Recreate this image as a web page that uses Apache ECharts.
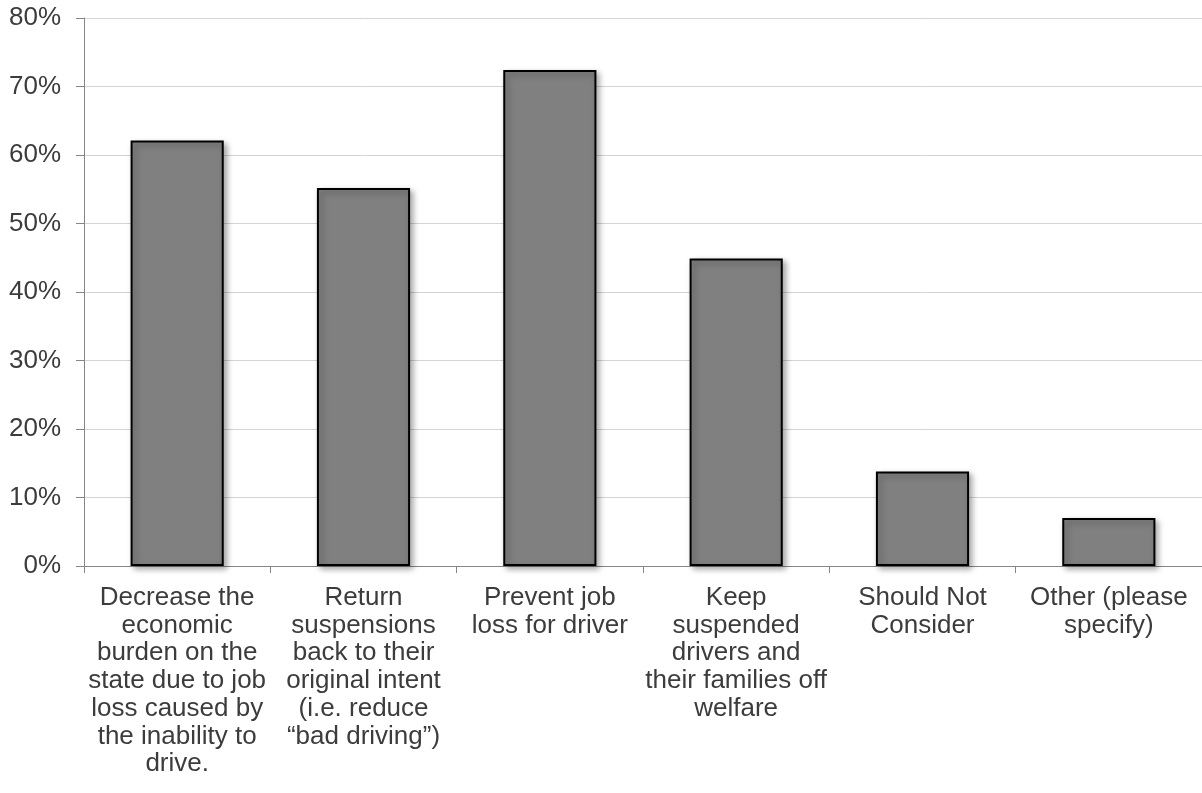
<!DOCTYPE html>
<html>
<head>
<meta charset="utf-8">
<script src="https://cdn.jsdelivr.net/npm/echarts@6/dist/echarts.min.js"></script>
<style>
  html, body { margin: 0; padding: 0; background: #ffffff; }
  #chart { width: 1202px; height: 793px; }
</style>
</head>
<body>
<div id="chart"></div>
<script>
// Survey responses: reasons to reconsider license suspensions
const categories = [
  'Decrease the\neconomic\nburden on the\nstate due to job\nloss caused by\nthe inability to\ndrive.',
  'Return\nsuspensions\nback to their\noriginal intent\n(i.e. reduce\n\u201cbad driving\u201d)',
  'Prevent job\nloss for driver',
  'Keep\nsuspended\ndrivers and\ntheir families off\nwelfare',
  'Should Not\nConsider',
  'Other (please\nspecify)'
];
const percentValues = [62.1, 55.2, 72.4, 44.9, 13.8, 7.0];
const yTicks = { min: 0, max: 80, step: 10 };

const chart = echarts.init(document.getElementById('chart'));
const font = 'Liberation Sans, Arial, sans-serif';

chart.setOption({
  animation: false,
  grid: { left: 84, right: -3, top: 18, bottom: 227, containLabel: false },
  xAxis: {
    type: 'category',
    data: categories,
    axisLine: { lineStyle: { color: '#868686', width: 1 } },
    axisTick: { show: true, length: 7, lineStyle: { color: '#868686' } },
    axisLabel: {
      interval: 0,
      margin: 18,
      color: '#3c3c3c',
      fontFamily: font,
      fontSize: 26,
      lineHeight: 27.7,
      align: 'center',
      verticalAlign: 'top'
    },
    splitLine: { show: false }
  },
  yAxis: {
    type: 'value',
    min: yTicks.min,
    max: yTicks.max,
    interval: yTicks.step,
    axisLine: { show: true, lineStyle: { color: '#868686', width: 1 } },
    axisTick: { show: true, length: 8, lineStyle: { color: '#868686' } },
    axisLabel: {
      formatter: '{value}%',
      margin: 23,
      color: '#3c3c3c',
      fontFamily: font,
      fontSize: 26
    },
    splitLine: { show: true, lineStyle: { color: '#d4d4d4', width: 1 } }
  },
  series: [{
    type: 'bar',
    data: percentValues,
    barWidth: '50%',
    itemStyle: {
      color: '#808080',
      borderColor: '#000000',
      borderWidth: 2,
      shadowColor: 'rgba(0,0,0,0.35)',
      shadowBlur: 6,
      shadowOffsetX: 3,
      shadowOffsetY: 3
    }
  }]
});
</script>
</body>
</html>
